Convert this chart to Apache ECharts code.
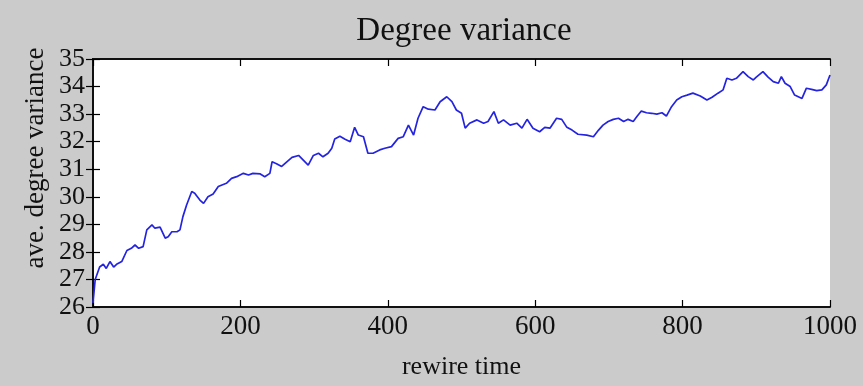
<!DOCTYPE html>
<html>
<head>
<meta charset="utf-8">
<script src="https://cdn.jsdelivr.net/npm/echarts@6/dist/echarts.min.js"></script>
<style>
html,body{margin:0;padding:0;background:#cbcbcb;}
#chart{width:863px;height:386px;}
</style>
</head>
<body>
<div id="chart"></div>
<script>
const rewireTime = [0,3,9,14,18,23,28,32,39,46,52,57,62,68,73,80,84,91,98,102,107,114,118,122,127,134,138,145,150,156,163,170,175,181,188,195,204,211,217,227,233,240,243,249,256,263,270,279,285,292,299,306,312,319,324,328,335,342,349,355,360,367,373,380,389,396,405,414,421,428,435,441,448,455,464,471,480,487,493,500,505,511,521,530,536,544,550,557,566,575,582,589,597,606,613,620,629,636,643,650,658,670,679,686,692,699,706,713,720,726,733,738,744,751,758,765,772,778,785,792,799,806,814,824,833,840,848,855,860,867,873,882,889,896,900,909,916,923,930,934,939,946,952,962,968,975,982,989,995,1000];
const degreeVariance = [26.15,27.0,27.45,27.55,27.4,27.65,27.45,27.55,27.65,28.05,28.13,28.25,28.13,28.19,28.8,28.98,28.86,28.9,28.5,28.55,28.73,28.73,28.8,29.28,29.7,30.19,30.13,29.88,29.76,30.0,30.1,30.37,30.43,30.49,30.67,30.73,30.85,30.79,30.85,30.83,30.73,30.85,31.27,31.2,31.1,31.27,31.43,31.5,31.34,31.15,31.5,31.58,31.45,31.58,31.76,32.1,32.2,32.09,32.0,32.52,32.24,32.18,31.58,31.58,31.7,31.76,31.82,32.12,32.18,32.6,32.24,32.85,33.27,33.18,33.15,33.45,33.63,33.45,33.15,33.03,32.49,32.67,32.79,32.67,32.73,33.09,32.67,32.79,32.6,32.67,32.49,32.81,32.49,32.36,32.52,32.49,32.85,32.81,32.52,32.42,32.27,32.24,32.18,32.42,32.6,32.73,32.81,32.85,32.73,32.81,32.73,32.91,33.11,33.05,33.03,33.0,33.05,32.93,33.27,33.51,33.63,33.69,33.76,33.66,33.51,33.61,33.76,33.88,34.3,34.24,34.3,34.54,34.36,34.24,34.34,34.54,34.34,34.18,34.12,34.36,34.12,34.0,33.69,33.57,33.94,33.9,33.85,33.88,34.06,34.42];
const xTicks = [0,200,400,600,800,1000];
const yTicks = [26,27,28,29,30,31,32,33,34,35];
const yName = 'ave. degree variance';

const seriesData = rewireTime.map((t,i)=>[t, degreeVariance[i]]);
const font = "'Liberation Serif','DejaVu Serif',serif";
const chart = echarts.init(document.getElementById('chart'));
const tickStyle = {show:true, inside:true, length:7, lineStyle:{color:'#000', width:1.2}};
chart.setOption({
  backgroundColor:'#cbcbcb',
  animation:false,
  title:{text:'Degree variance', left:459, textAlign:'center', top:10,
    textStyle:{fontFamily:font, fontSize:33, fontWeight:'normal', color:'#111'}},
  graphic:[{
    type:'text', x:36, y:158, rotation:Math.PI/2,
    style:{text:yName, fontFamily:font, fontSize:27, fill:'#111',
      textAlign:'center', textVerticalAlign:'middle'}
  }],
  grid:{left:93, right:33, top:59, bottom:79, show:true, backgroundColor:'#fff', borderWidth:0},
  xAxis:[{
    type:'value', min:0, max:1000, interval:200,
    name:'rewire time', nameLocation:'middle', nameGap:47,
    nameTextStyle:{fontFamily:font, fontSize:26, color:'#111'},
    axisLine:{show:true, lineStyle:{color:'#111', width:2}},
    axisTick:tickStyle, splitLine:{show:false},
    axisLabel:{fontFamily:font, fontSize:27, color:'#111', margin:6,
      formatter:v=>xTicks.includes(v)?String(v):''}
  },{
    type:'value', position:'top', min:0, max:1000, interval:200,
    axisLine:{show:true, lineStyle:{color:'#111', width:2}},
    axisTick:tickStyle, splitLine:{show:false}, axisLabel:{show:false}
  }],
  yAxis:[{
    type:'value', min:26, max:35, interval:1,
    axisLine:{show:true, lineStyle:{color:'#111', width:2}},
    axisTick:tickStyle, splitLine:{show:false},
    axisLabel:{fontFamily:font, fontSize:26, color:'#111', margin:8,
      formatter:v=>yTicks.includes(v)?String(v):''}
  },{
    type:'value', position:'right', min:26, max:35, interval:1,
    axisLine:{show:true, lineStyle:{color:'#111', width:2}},
    axisTick:tickStyle, splitLine:{show:false}, axisLabel:{show:false}
  }],
  series:[{
    type:'line', data:seriesData, showSymbol:false, symbol:'none',
    lineStyle:{color:'#2424e0', width:1.7}, xAxisIndex:0, yAxisIndex:0
  }]
});
</script>
</body>
</html>
